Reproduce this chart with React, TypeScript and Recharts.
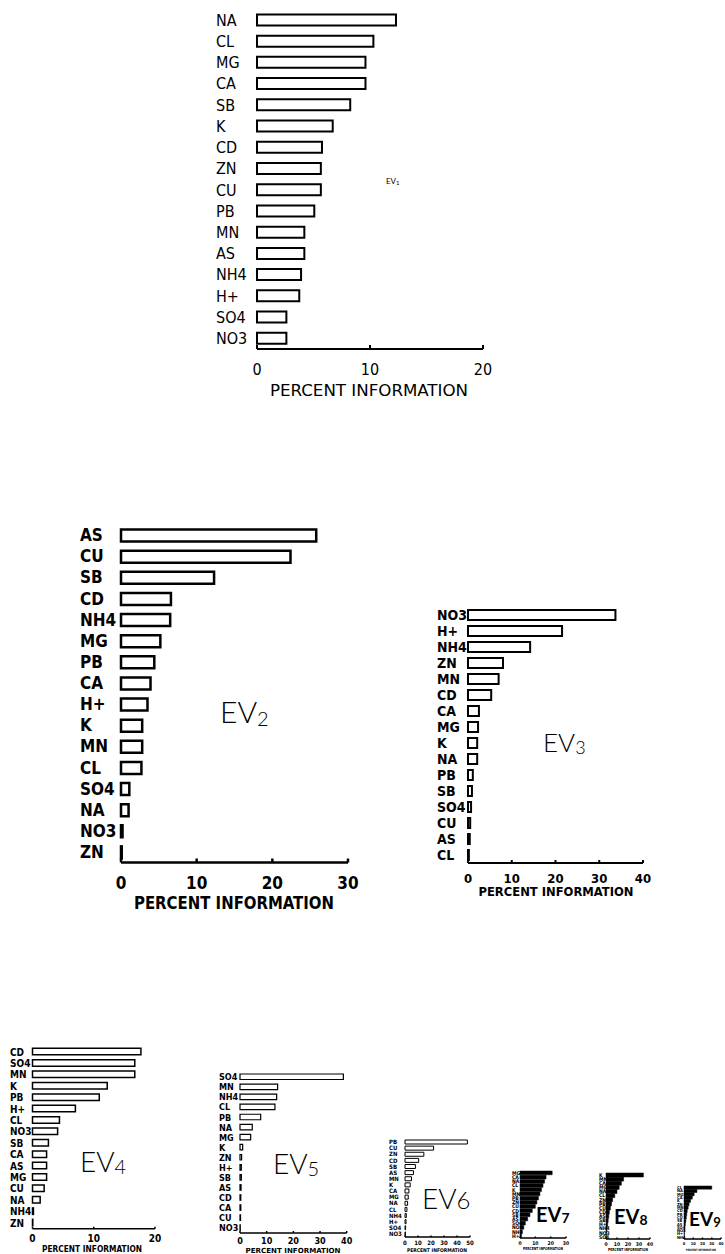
import React from 'react';
import { BarChart, Bar, XAxis, YAxis, Label } from 'recharts';

// percent information per ion, one panel per eigenvector
const ev1Labels = ['NA', 'CL', 'MG', 'CA', 'SB', 'K', 'CD', 'ZN', 'CU', 'PB', 'MN', 'AS', 'NH4', 'H+', 'SO4', 'NO3'];
const ev1Values = [12.3, 10.3, 9.6, 9.6, 8.25, 6.7, 5.75, 5.65, 5.65, 5.07, 4.19, 4.19, 3.9, 3.74, 2.6, 2.6];

const ev2Labels = ['AS', 'CU', 'SB', 'CD', 'NH4', 'MG', 'PB', 'CA', 'H+', 'K', 'MN', 'CL', 'SO4', 'NA', 'NO3', 'ZN'];
const ev2Values = [25.8, 22.4, 12.3, 6.6, 6.5, 5.2, 4.4, 3.9, 3.5, 2.8, 2.8, 2.7, 1.1, 1.0, 0.2, 0.1];

const ev3Labels = ['NO3', 'H+', 'NH4', 'ZN', 'MN', 'CD', 'CA', 'MG', 'K', 'NA', 'PB', 'SB', 'SO4', 'CU', 'AS', 'CL'];
const ev3Values = [33.7, 21.5, 14.2, 8.0, 7.0, 5.3, 2.5, 2.3, 2.1, 2.1, 1.1, 0.9, 0.7, 0.5, 0.4, 0.2];

const ev4Labels = ['CD', 'SO4', 'MN', 'K', 'PB', 'H+', 'CL', 'NO3', 'SB', 'CA', 'AS', 'MG', 'CU', 'NA', 'NH4', 'ZN'];
const ev4Values = [17.7, 16.7, 16.7, 12.2, 10.9, 7.0, 4.4, 4.1, 2.6, 2.3, 2.3, 2.3, 1.9, 1.25, 0.15, 0.05];

const ev5Labels = ['SO4', 'MN', 'NH4', 'CL', 'PB', 'NA', 'MG', 'K', 'ZN', 'H+', 'SB', 'AS', 'CD', 'CA', 'CU', 'NO3'];
const ev5Values = [38.75, 14.1, 13.75, 13.1, 7.75, 4.6, 4.0, 1.0, 0.6, 0.5, 0.5, 0.4, 0.3, 0.3, 0.2, 0.1];

const ev6Labels = ['PB', 'CU', 'ZN', 'CD', 'SB', 'AS', 'MN', 'K', 'CA', 'MG', 'NA', 'CL', 'NH4', 'H+', 'SO4', 'NO3'];
const ev6Values = [48, 22, 14.5, 10.5, 8, 6.5, 5, 4, 3, 2.5, 2, 1.5, 1, 0.8, 0.5, 0.3];

const ev7Labels = ['MG', 'CA', 'NA', 'CL', 'K', 'MN', 'PB', 'ZN', 'CU', 'CD', 'SB', 'AS', 'SO4', 'NO3', 'NH4', 'H+'];
const ev7Values = [21, 17, 16, 15, 14, 13, 12, 11, 10, 8, 6.5, 5, 3.5, 2.5, 1.5, 1];

const ev8Labels = ['K', 'MN', 'CA', 'MG', 'NA', 'CL', 'ZN', 'PB', 'CU', 'CD', 'AS', 'SB', 'H+', 'NH4', 'NO3', 'SO4'];
const ev8Values = [34, 16, 14, 12, 10, 8, 6, 5, 4, 3, 2.5, 2, 1.5, 1, 0.5, 0.3];

const ev9Labels = ['CL', 'NA', 'MG', 'CA', 'K', 'ZN', 'MN', 'CD', 'PB', 'CU', 'SB', 'AS', 'SO4', 'NO3', 'H+', 'NH4'];
const ev9Values = [30, 14, 11, 9, 7, 5.5, 4.5, 3.5, 3, 2.5, 2, 1.5, 1, 0.8, 0.5, 0.3];

const ticks20 = [0, 10, 20];
const ticks30 = [0, 10, 20, 30];
const ticks40 = [0, 10, 20, 30, 40];
const ticks50 = [0, 10, 20, 30, 40, 50];

const NARROW = "'DejaVu Sans Condensed', 'Liberation Sans Narrow', 'DejaVu Sans', sans-serif";
const THIN = "Lato, 'Liberation Sans', sans-serif";

type Geom = {
  L: number; T: number; W: number; H: number;
  zeroX: number; maxX: number; max: number; ticks: number[];
  plotTop: number; plotBottom: number;
  labelX: number; labelFont: number; weight: number;
  tickFont: number; tickOffset: number;
  titleFont: number; titleOffset: number; titleWidth: number; titleX: number;
  barSize: number; sw: number; fill: string; tickLen: number; axisWidth: number;
};

const Panel = ({ labels, values, g }: { labels: string[]; values: number[]; g: Geom }) => {
  const data = labels.map((name, i) => ({ name, v: values[i] }));

  const yTick = (p: any) => (
    <text x={g.labelX - g.L} y={p.y} dy="0.36em" textAnchor="start"
      fontFamily={NARROW} fontSize={g.labelFont} fontWeight={g.weight} fill="#000">
      {p.payload.value}
    </text>
  );

  const xTick = (p: any) => (
    <g>
      <line x1={p.x} x2={p.x} y1={p.y} y2={p.y - g.tickLen} stroke="#000" strokeWidth={g.axisWidth} />
      <text x={p.x} y={p.y + g.tickOffset} dy="0.36em" textAnchor="middle"
        fontFamily={NARROW} fontSize={g.tickFont} fontWeight={g.weight} fill="#000">
        {p.payload.value}
      </text>
    </g>
  );

  const title = () => (
    <text x={g.titleX - g.L} y={g.plotBottom - g.T + g.titleOffset} dy="0.36em" textAnchor="middle"
      textLength={g.titleWidth} lengthAdjust="spacingAndGlyphs"
      fontFamily={NARROW} fontSize={g.titleFont} fontWeight={g.weight} fill="#000">
      PERCENT INFORMATION
    </text>
  );

  return (
    <div style={{ position: 'absolute', left: g.L, top: g.T }}>
      <BarChart
        width={g.W}
        height={g.H}
        layout="vertical"
        data={data}
        margin={{ top: g.plotTop - g.T, right: g.L + g.W - g.maxX, bottom: 0, left: 0 }}
      >
        <XAxis
          type="number"
          domain={[0, g.max]}
          ticks={g.ticks}
          interval={0}
          tickSize={0}
          tickMargin={0}
          tick={xTick}
          axisLine={{ stroke: '#000', strokeWidth: g.axisWidth }}
          height={g.T + g.H - g.plotBottom}
        >
          <Label content={title} />
        </XAxis>
        <YAxis
          type="category"
          dataKey="name"
          width={g.zeroX - g.L}
          axisLine={false}
          tickLine={false}
          interval={0}
          tick={yTick}
        />
        <Bar dataKey="v" fill={g.fill} stroke="#000" strokeWidth={g.sw} barSize={g.barSize} isAnimationActive={false} />
      </BarChart>
    </div>
  );
};

const g1: Geom = {
  L: 200, T: 0, W: 300, H: 400, zeroX: 257, maxX: 483, max: 20, ticks: ticks20,
  plotTop: 9.4, plotBottom: 349, labelX: 216, labelFont: 16, weight: 400,
  tickFont: 16, tickOffset: 20, titleFont: 16, titleOffset: 41, titleWidth: 198, titleX: 369,
  barSize: 11, sw: 2, fill: '#fff', tickLen: 4, axisWidth: 2,
};
const g2: Geom = {
  L: 60, T: 500, W: 310, H: 420, zeroX: 121, maxX: 348, max: 30, ticks: ticks30,
  plotTop: 524.5, plotBottom: 862.5, labelX: 80, labelFont: 17, weight: 700,
  tickFont: 17, tickOffset: 20, titleFont: 17, titleOffset: 40, titleWidth: 200, titleX: 234,
  barSize: 12, sw: 2.5, fill: '#fff', tickLen: 4, axisWidth: 2.5,
};
const g3: Geom = {
  L: 400, T: 590, W: 270, H: 320, zeroX: 468, maxX: 643, max: 40, ticks: ticks40,
  plotTop: 607, plotBottom: 863, labelX: 437, labelFont: 14, weight: 700,
  tickFont: 13, tickOffset: 15, titleFont: 12, titleOffset: 29, titleWidth: 155, titleX: 556,
  barSize: 10, sw: 2, fill: '#fff', tickLen: 3, axisWidth: 2,
};
const g4: Geom = {
  L: 0, T: 1030, W: 200, H: 224, zeroX: 32.5, maxX: 155, max: 20, ticks: ticks20,
  plotTop: 1046.3, plotBottom: 1228.7, labelX: 10, labelFont: 10, weight: 700,
  tickFont: 10, tickOffset: 10, titleFont: 8, titleOffset: 20, titleWidth: 100, titleX: 92,
  barSize: 6.5, sw: 1.5, fill: '#fff', tickLen: 2, axisWidth: 1.5,
};
const g5: Geom = {
  L: 200, T: 1050, W: 170, H: 204, zeroX: 240, maxX: 346.7, max: 40, ticks: ticks40,
  plotTop: 1072, plotBottom: 1233, labelX: 219, labelFont: 9, weight: 700,
  tickFont: 9, tickOffset: 8, titleFont: 7, titleOffset: 17, titleWidth: 95, titleX: 293,
  barSize: 5.5, sw: 1.2, fill: '#fff', tickLen: 2, axisWidth: 1.5,
};
const g6: Geom = {
  L: 385, T: 1130, W: 100, H: 124, zeroX: 405, maxX: 470, max: 50, ticks: ticks50,
  plotTop: 1139, plotBottom: 1237, labelX: 389, labelFont: 6, weight: 700,
  tickFont: 6, tickOffset: 6, titleFont: 5, titleOffset: 13, titleWidth: 60, titleX: 437,
  barSize: 4, sw: 1, fill: '#fff', tickLen: 1.5, axisWidth: 1.5,
};
const g7: Geom = {
  L: 505, T: 1165, W: 75, H: 89, zeroX: 520, maxX: 566, max: 30, ticks: ticks30,
  plotTop: 1171, plotBottom: 1238, labelX: 512, labelFont: 5, weight: 700,
  tickFont: 5, tickOffset: 5, titleFont: 4, titleOffset: 11, titleWidth: 40, titleX: 543,
  barSize: 4.2, sw: 0.5, fill: '#000', tickLen: 1.5, axisWidth: 1.5,
};
const g8: Geom = {
  L: 590, T: 1165, W: 70, H: 89, zeroX: 606, maxX: 650, max: 40, ticks: ticks40,
  plotTop: 1173, plotBottom: 1239, labelX: 599, labelFont: 5, weight: 700,
  tickFont: 5, tickOffset: 5, titleFont: 4, titleOffset: 11, titleWidth: 40, titleX: 628,
  barSize: 4, sw: 0.5, fill: '#000', tickLen: 1.5, axisWidth: 1.5,
};
const g9: Geom = {
  L: 670, T: 1180, W: 55, H: 74, zeroX: 684, maxX: 721, max: 40, ticks: ticks40,
  plotTop: 1186, plotBottom: 1239, labelX: 677, labelFont: 4, weight: 700,
  tickFont: 4, tickOffset: 5, titleFont: 3, titleOffset: 11, titleWidth: 30, titleX: 701,
  barSize: 3.2, sw: 0.5, fill: '#000', tickLen: 1.5, axisWidth: 1.5,
};

const EvLabel = ({ x, y, size, sub, subSize, dy, weight }: any) => (
  <text x={x} y={y} fontFamily={THIN} fontSize={size} fontWeight={weight} fill="#000">
    EV
    <tspan fontSize={subSize} dy={dy}>{sub}</tspan>
  </text>
);

export default function App() {
  return (
    <div style={{ position: 'absolute', left: 0, top: 0, width: 725, height: 1254, overflow: 'hidden', background: '#fff' }}>
      <Panel labels={ev1Labels} values={ev1Values} g={g1} />
      <Panel labels={ev2Labels} values={ev2Values} g={g2} />
      <Panel labels={ev3Labels} values={ev3Values} g={g3} />
      <Panel labels={ev4Labels} values={ev4Values} g={g4} />
      <Panel labels={ev5Labels} values={ev5Values} g={g5} />
      <Panel labels={ev6Labels} values={ev6Values} g={g6} />
      <Panel labels={ev7Labels} values={ev7Values} g={g7} />
      <Panel labels={ev8Labels} values={ev8Values} g={g8} />
      <Panel labels={ev9Labels} values={ev9Values} g={g9} />
      <svg width={725} height={1254} style={{ position: 'absolute', left: 0, top: 0, pointerEvents: 'none' }}>
        <EvLabel x={386} y={184} size={8} sub="1" subSize={6} dy={1} weight={400} />
        <EvLabel x={220} y={723} size={30} sub="2" subSize={20} dy={3} weight={300} />
        <EvLabel x={543} y={752} size={26} sub="3" subSize={18} dy={2} weight={300} />
        <EvLabel x={80} y={1172} size={28} sub="4" subSize={20} dy={2} weight={300} />
        <EvLabel x={273} y={1174} size={28} sub="5" subSize={20} dy={2} weight={300} />
        <EvLabel x={422} y={1209} size={28} sub="6" subSize={24} dy={0} weight={300} />
        <EvLabel x={536} y={1222} size={20} sub="7" subSize={14} dy={1} weight={700} />
        <EvLabel x={614} y={1224} size={20} sub="8" subSize={14} dy={1} weight={700} />
        <EvLabel x={689} y={1226} size={19} sub="9" subSize={13} dy={1} weight={700} />
      </svg>
    </div>
  );
}
